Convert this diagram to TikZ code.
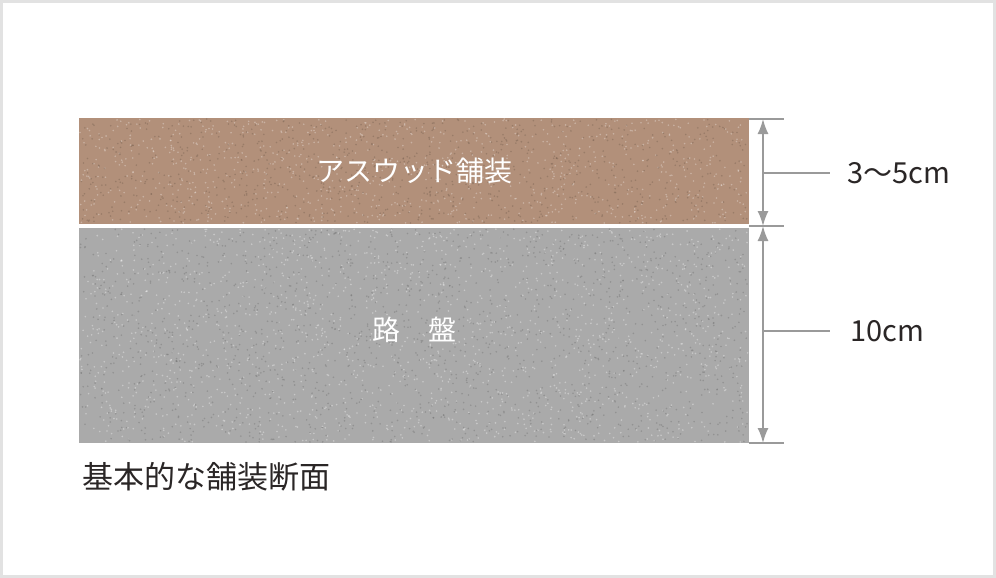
\documentclass[tikz,border=0pt]{standalone}
\usepackage{fontspec}
\setmainfont{Noto Sans CJK JP}
\usetikzlibrary{arrows.meta,positioning}
\definecolor{asphalt}{HTML}{B2907A}
\definecolor{roadbed}{HTML}{AAAAAA}
\definecolor{dimgray}{HTML}{9A9A9A}
\definecolor{ink}{HTML}{2A2626}
\definecolor{framegray}{HTML}{E2E2E2}
\begin{document}
\begin{tikzpicture}[>={Latex[length=15pt,width=11pt]},x=1pt,y=-1pt,
	layer/.style={inner sep=0pt,outer sep=0pt,minimum width=670pt,anchor=north west},
	dim/.style={draw=dimgray,line width=1.6pt},
	lbl/.style={text=white,font=\fontsize{28}{28}\selectfont},
	size/.style={text=ink,anchor=west,inner sep=0pt,font=\fontsize{29}{29}\selectfont}]
	\useasboundingbox (0,0) rectangle (996,578);
	\draw[framegray,line width=3pt] (1.5,1.5) rectangle (994.5,576.5);
	% layers
	\node[layer,fill=asphalt,minimum height=106pt] (surface) at (79,118) {};
	\node[layer,fill=roadbed,minimum height=215pt] (base) at (79,228) {};
	% texture
	\pgfmathsetseed{7}
	\foreach \i in {1,...,900}{
		\pgfmathsetmacro\px{80+668*rnd}
		\pgfmathsetmacro\py{119+104*rnd}
		\fill[asphalt!65!black,opacity=.4] (\px,\py) circle (0.9pt);
		\pgfmathsetmacro\qx{80+668*rnd}
		\pgfmathsetmacro\qy{119+104*rnd}
		\fill[white,opacity=.3] (\qx,\qy) circle (0.9pt);
	}
	\foreach \i in {1,...,1600}{
		\pgfmathsetmacro\px{80+668*rnd}
		\pgfmathsetmacro\py{229+213*rnd}
		\fill[roadbed!65!black,opacity=.4] (\px,\py) circle (0.9pt);
		\pgfmathsetmacro\qx{80+668*rnd}
		\pgfmathsetmacro\qy{229+213*rnd}
		\fill[white,opacity=.35] (\qx,\qy) circle (0.9pt);
	}
	\node[lbl] (surfacelbl) at (surface.center) {アスウッド舗装};
	\node[lbl] (baselbl) at ([yshift=6pt]base.center) {路　盤};
	% dimensions
	\coordinate (t1) at (749,119);
	\coordinate (t2) at (749,226);
	\coordinate (t3) at (749,443);
	\foreach \t in {t1,t2,t3}
		\draw[dim] (\t) -- ++(35,0);
	\coordinate (d1) at (763,119);
	\coordinate (d2) at (763,226);
	\coordinate (d3) at (763,443);
	\draw[dim,<->] (d1) -- (d2);
	\draw[dim,<->] (d2) -- (d3);
	\node[size] (thin) at (847,173) {3～5cm};
	\node[size] (thick) at (850,331) {10cm};
	\draw[dim] (763,173) -- ([xshift=-17pt]thin.west);
	\draw[dim] (763,331) -- ([xshift=-20pt]thick.west);
	\node[text=ink,anchor=west,inner sep=0pt,font=\fontsize{31}{31}\selectfont] (caption) at (82,477) {基本的な舗装断面};
\end{tikzpicture}
\end{document}
